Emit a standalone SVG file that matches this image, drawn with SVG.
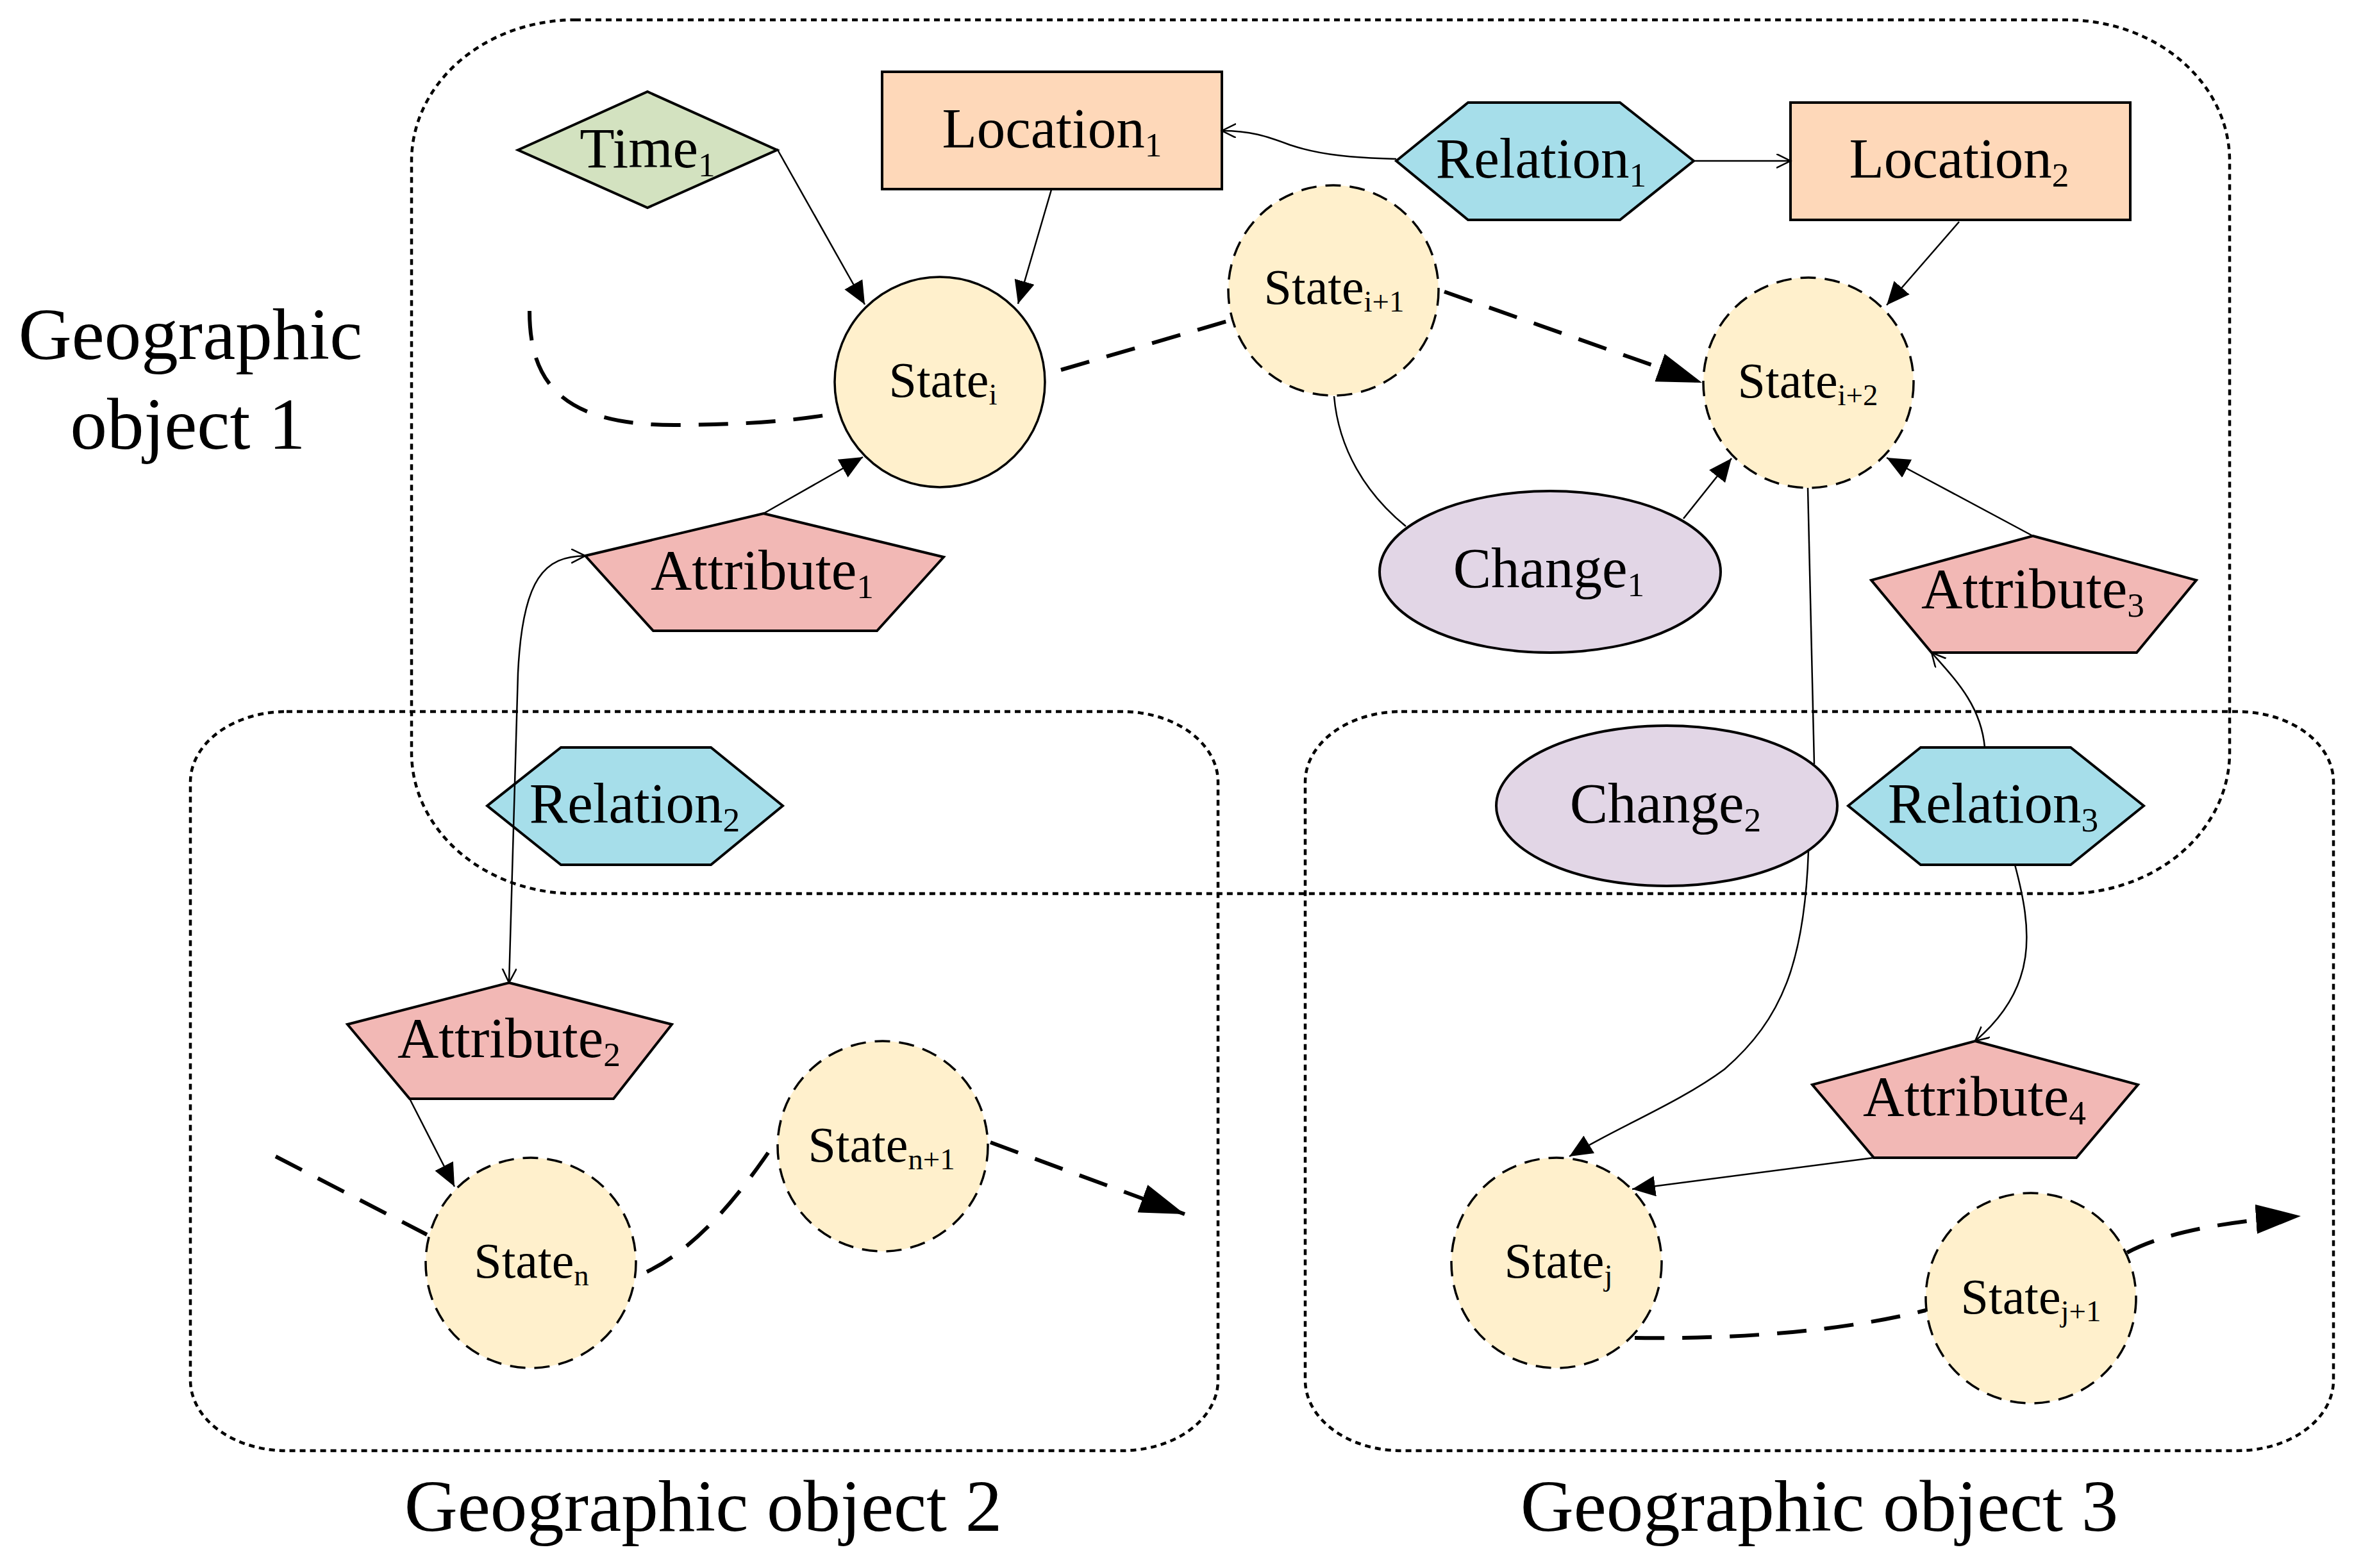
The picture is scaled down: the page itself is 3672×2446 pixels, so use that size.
<svg xmlns="http://www.w3.org/2000/svg" width="3672" height="2446" viewBox="0 0 3672 2446">
<defs>
<style>
.grp{fill:none;stroke:#000;stroke-width:4.5;stroke-dasharray:9 7}
.lbl{font-family:"Liberation Serif","Times New Roman",serif;fill:#000;text-anchor:middle}
.big{font-size:115px}
.nd{font-size:89px}
.st{font-size:78px}
.sub{font-size:0.6em}
.box{stroke:#000;stroke-width:4}
.time{fill:#d3e2c0}
.loc{fill:#fed8b9}
.rel{fill:#a6deea}
.chg{fill:#e2d6e6}
.att{fill:#f2b8b5}
.state{fill:#fff0cc;stroke:#000;stroke-width:3.5}
.dstate{fill:#fff0cc;stroke:#000;stroke-width:3.5;stroke-dasharray:24 14}
.thin{fill:none;stroke:#000;stroke-width:2.5}
.dash{fill:none;stroke:#000;stroke-width:6;stroke-dasharray:46 28}
</style>
<marker id="af" markerUnits="userSpaceOnUse" markerWidth="40" markerHeight="34" refX="36" refY="16" orient="auto">
<path d="M0,0 L36,16 L0,32 z" fill="#000"/>
</marker>
<marker id="ab" markerUnits="userSpaceOnUse" markerWidth="72" markerHeight="48" refX="70" refY="23" orient="auto">
<path d="M0,0 L70,23 L0,46 z" fill="#000"/>
</marker>
<marker id="ao" markerUnits="userSpaceOnUse" markerWidth="26" markerHeight="24" refX="22" refY="11" orient="auto-start-reverse">
<path d="M0,0 L22,11 L0,22" fill="none" stroke="#000" stroke-width="2.5"/>
</marker>
</defs>
<rect width="3672" height="2446" fill="#fff"/>

<g id="groups">
<rect id="geo1-box" class="grp" x="642" y="31" width="2836" height="1363" rx="255" ry="220"/>
<rect id="geo2-box" class="grp" x="297" y="1110" width="1603" height="1153" rx="150" ry="110"/>
<rect id="geo3-box" class="grp" x="2036" y="1110" width="1604" height="1153" rx="150" ry="110"/>
<text class="lbl big" x="297" y="560">Geographic</text>
<text class="lbl big" x="293" y="700">object 1</text>
<text class="lbl big" x="1097" y="2388">Geographic object 2</text>
<text class="lbl big" x="2838" y="2388">Geographic object 3</text>
</g>

<g id="nodes">
<g id="time1">
<polygon class="box time" points="808,234 1010,143 1212,234 1010,324"/>
<text class="lbl nd" x="1010" y="261">Time<tspan class="sub" dy="14">1</tspan></text>
</g>
<g id="location1">
<rect class="box loc" x="1376" y="112" width="530" height="183"/>
<text class="lbl nd" x="1641" y="230">Location<tspan class="sub" dy="14">1</tspan></text>
</g>
<g id="relation1">
<polygon class="box rel" points="2178,251 2290,160 2527,160 2642,251 2527,343 2290,343"/>
<text class="lbl nd" x="2404" y="277">Relation<tspan class="sub" dy="14">1</tspan></text>
</g>
<g id="location2">
<rect class="box loc" x="2793" y="160" width="530" height="183"/>
<text class="lbl nd" x="3056" y="277">Location<tspan class="sub" dy="14">2</tspan></text>
</g>
<g id="state-i">
<circle class="state" cx="1466" cy="596" r="164"/>
<text class="lbl st" x="1471" y="619">State<tspan class="sub" dy="12">i</tspan></text>
</g>
<g id="state-i1">
<circle class="dstate" cx="2080" cy="453" r="164"/>
<text class="lbl st" x="2081" y="474">State<tspan class="sub" dy="12">i+1</tspan></text>
</g>
<g id="state-i2">
<circle class="dstate" cx="2821" cy="597" r="164"/>
<text class="lbl st" x="2820" y="620">State<tspan class="sub" dy="12">i+2</tspan></text>
</g>
<g id="change1">
<ellipse class="box chg" cx="2418" cy="892" rx="266" ry="126"/>
<text class="lbl nd" x="2416" y="916">Change<tspan class="sub" dy="14">1</tspan></text>
</g>
<g id="attribute1">
<polygon class="box att" points="1191,801 1472,869 1368,984 1019,984 913,867"/>
<text class="lbl nd" x="1189" y="919">Attribute<tspan class="sub" dy="14">1</tspan></text>
</g>
<g id="attribute3">
<polygon class="box att" points="3171,836 3426,905 3333,1018 3013,1018 2919,905"/>
<text class="lbl nd" x="3171" y="948">Attribute<tspan class="sub" dy="14">3</tspan></text>
</g>
<g id="relation2">
<polygon class="box rel" points="760,1257 875,1166 1109,1166 1221,1257 1109,1349 875,1349"/>
<text class="lbl nd" x="990" y="1283">Relation<tspan class="sub" dy="14">2</tspan></text>
</g>
<g id="change2">
<ellipse class="box chg" cx="2600" cy="1257" rx="266" ry="125"/>
<text class="lbl nd" x="2598" y="1283">Change<tspan class="sub" dy="14">2</tspan></text>
</g>
<g id="relation3">
<polygon class="box rel" points="2883,1257 2996,1166 3230,1166 3344,1257 3230,1349 2996,1349"/>
<text class="lbl nd" x="3109" y="1283">Relation<tspan class="sub" dy="14">3</tspan></text>
</g>
<g id="attribute2">
<polygon class="box att" points="794,1533 1048,1598 957,1714 639,1714 542,1598"/>
<text class="lbl nd" x="794" y="1649">Attribute<tspan class="sub" dy="14">2</tspan></text>
</g>
<g id="state-n">
<circle class="dstate" cx="828" cy="1970" r="164"/>
<text class="lbl st" x="829" y="1993">State<tspan class="sub" dy="12">n</tspan></text>
</g>
<g id="state-n1">
<circle class="dstate" cx="1377" cy="1788" r="164"/>
<text class="lbl st" x="1375" y="1812">State<tspan class="sub" dy="12">n+1</tspan></text>
</g>
<g id="attribute4">
<polygon class="box att" points="3081,1624 3335,1692 3239,1806 2923,1806 2827,1692"/>
<text class="lbl nd" x="3080" y="1740">Attribute<tspan class="sub" dy="14">4</tspan></text>
</g>
<g id="state-j">
<circle class="dstate" cx="2428" cy="1970" r="164"/>
<text class="lbl st" x="2431" y="1993">State<tspan class="sub" dy="12">j</tspan></text>
</g>
<g id="state-j1">
<circle class="dstate" cx="3168" cy="2025" r="164"/>
<text class="lbl st" x="3168" y="2049">State<tspan class="sub" dy="12">j+1</tspan></text>
</g>
</g>

<g id="connectors">
<path class="thin" d="M1212,232 L1349,475" marker-end="url(#af)"/>
<path class="thin" d="M1640,296 L1588,474" marker-end="url(#af)"/>
<path class="thin" d="M1191,801 L1346,713" marker-end="url(#af)"/>
<path class="dash" d="M826,485 C826,600 880,665 1060,663 C1180,662 1250,655 1308,644"/>
<path class="dash" d="M1655,577 L1918,500"/>
<path class="dash" d="M2253,455 L2655,597" marker-end="url(#ab)"/>
<path class="thin" d="M2081,618 C2088,700 2130,770 2193,821"/>
<path class="thin" d="M2626,809 L2701,715" marker-end="url(#af)"/>
<path class="thin" d="M3056,346 L2943,476" marker-end="url(#af)"/>
<path class="thin" d="M3171,836 L2943,714" marker-end="url(#af)"/>
<path class="thin" d="M2178,248 C2110,246 2060,242 2012,226 C1975,212 1950,204 1906,204" marker-end="url(#ao)"/>
<path class="thin" d="M2642,251 L2793,251" marker-end="url(#ao)"/>
<path class="thin" d="M2820,761 L2830,1192"/>
<path class="thin" d="M3096,1166 C3090,1100 3050,1060 3013,1018" marker-end="url(#ao)"/>
<path class="thin" d="M3143,1349 C3170,1450 3180,1540 3081,1624" marker-end="url(#ao)"/>
<path class="thin" d="M2821,1327 C2815,1500 2780,1590 2690,1668 C2620,1720 2520,1760 2448,1804" marker-end="url(#af)"/>
<path class="thin" d="M2923,1806 L2546,1855" marker-end="url(#af)"/>
<path class="thin" d="M639,1714 L709,1851" marker-end="url(#af)"/>
<path class="thin" d="M913,867 C850,868 815,900 808,1050 L794,1533" marker-start="url(#ao)" marker-end="url(#ao)"/>
<path class="dash" d="M430,1804 L666,1926"/>
<path class="dash" d="M1009,1984 C1100,1940 1170,1840 1212,1778"/>
<path class="dash" d="M1545,1782 L1848,1894" marker-end="url(#ab)"/>
<path class="dash" d="M2550,2087 Q2820,2090 3004,2044"/>
<path class="dash" d="M3318,1954 Q3400,1910 3589,1897" marker-end="url(#ab)"/>
</g>
</svg>
